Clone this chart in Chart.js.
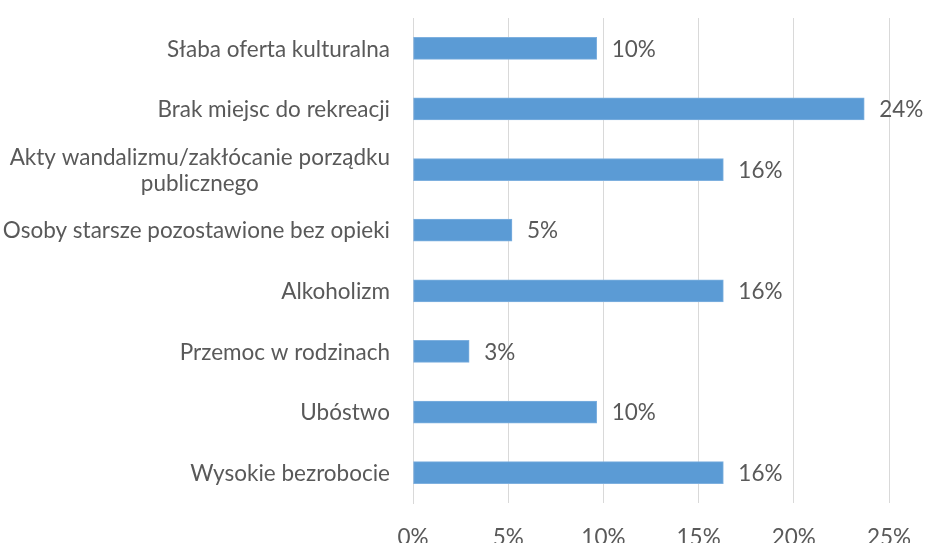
<!DOCTYPE html>
<html>
<head>
<meta charset="utf-8">
<script src="https://cdn.jsdelivr.net/npm/chart.js@4"></script>
<style>
  html, body { margin: 0; padding: 0; background: #fff; }
  #wrap { width: 937px; height: 543px; }
</style>
</head>
<body>
<div id="wrap"><canvas id="bars"></canvas></div>
<script>
const categories = [
  'Słaba oferta kulturalna',
  'Brak miejsc do rekreacji',
  ['Akty wandalizmu/zakłócanie porządku', 'publicznego'],
  'Osoby starsze pozostawione bez opieki',
  'Alkoholizm',
  'Przemoc w rodzinach',
  'Ubóstwo',
  'Wysokie bezrobocie'
];
// share of answers, in percent
const shares = [9.65, 23.7, 16.3, 5.2, 16.3, 2.95, 9.65, 16.3];
const xTicks = [0, 5, 10, 15, 20, 25];

const textColor = '#595959';
const fontFamily = 'Lato, "Open Sans", sans-serif';
const fontSize = 22.5;
const lineGap = 26;

// category names: right-aligned block, wrapped lines centred within it
const categoryLabels = {
  id: 'categoryLabels',
  afterDraw(chart) {
    const ctx = chart.ctx;
    const yScale = chart.scales.y;
    const right = yScale.right - 23;
    ctx.save();
    ctx.font = fontSize + 'px ' + fontFamily;
    ctx.fillStyle = textColor;
    ctx.textBaseline = 'middle';
    chart.data.labels.forEach((label, i) => {
      const y = yScale.getPixelForTick(i);
      const lines = Array.isArray(label) ? label : [label];
      const blockW = Math.max(...lines.map(l => ctx.measureText(l).width));
      lines.forEach((line, j) => {
        const ly = y + (j - (lines.length - 1) / 2) * lineGap + 1;
        if (lines.length > 1) {
          ctx.textAlign = 'center';
          ctx.fillText(line, right - blockW / 2, ly);
        } else {
          ctx.textAlign = 'right';
          ctx.fillText(line, right, ly);
        }
      });
    });
    ctx.restore();
  }
};

// value labels to the right of each bar
const valueLabels = {
  id: 'valueLabels',
  afterDatasetsDraw(chart) {
    const ctx = chart.ctx;
    const meta = chart.getDatasetMeta(0);
    ctx.save();
    ctx.font = fontSize + 'px ' + fontFamily;
    ctx.fillStyle = textColor;
    ctx.textAlign = 'left';
    ctx.textBaseline = 'middle';
    meta.data.forEach((bar, i) => {
      ctx.fillText(Math.round(shares[i]) + '%', bar.x + 15, bar.y + 1);
    });
    ctx.restore();
  }
};

new Chart(document.getElementById('bars'), {
  type: 'bar',
  data: {
    labels: categories,
    datasets: [{
      data: shares,
      backgroundColor: '#5b9bd5',
      borderColor: '#7eb0df',
      borderWidth: 1,
      borderSkipped: false,
      barThickness: 22
    }]
  },
  options: {
    indexAxis: 'y',
    responsive: true,
    maintainAspectRatio: false,
    animation: false,
    layout: { padding: { top: 18, right: 48, left: 0, bottom: 0 } },
    plugins: {
      legend: { display: false },
      tooltip: { enabled: false }
    },
    scales: {
      x: {
        min: 0,
        max: 25,
        afterBuildTicks(scale) {
          scale.ticks = xTicks.map(v => ({ value: v }));
        },
        afterFit(scale) {
          scale.height = 40;
          scale.paddingLeft = 0;
          scale.paddingRight = 0;
        },
        grid: { color: '#d9d9d9', drawTicks: false },
        border: { display: false },
        ticks: {
          padding: 21,
          color: textColor,
          font: { family: fontFamily, size: fontSize },
          callback: v => v + '%'
        }
      },
      y: {
        afterFit(scale) {
          scale.width = 413;
          scale.paddingTop = 0;
          scale.paddingBottom = 0;
        },
        grid: { display: false, drawTicks: false },
        border: { display: true, color: '#d9d9d9' },
        ticks: { display: false }
      }
    }
  },
  plugins: [valueLabels, categoryLabels]
});
</script>
</body>
</html>
